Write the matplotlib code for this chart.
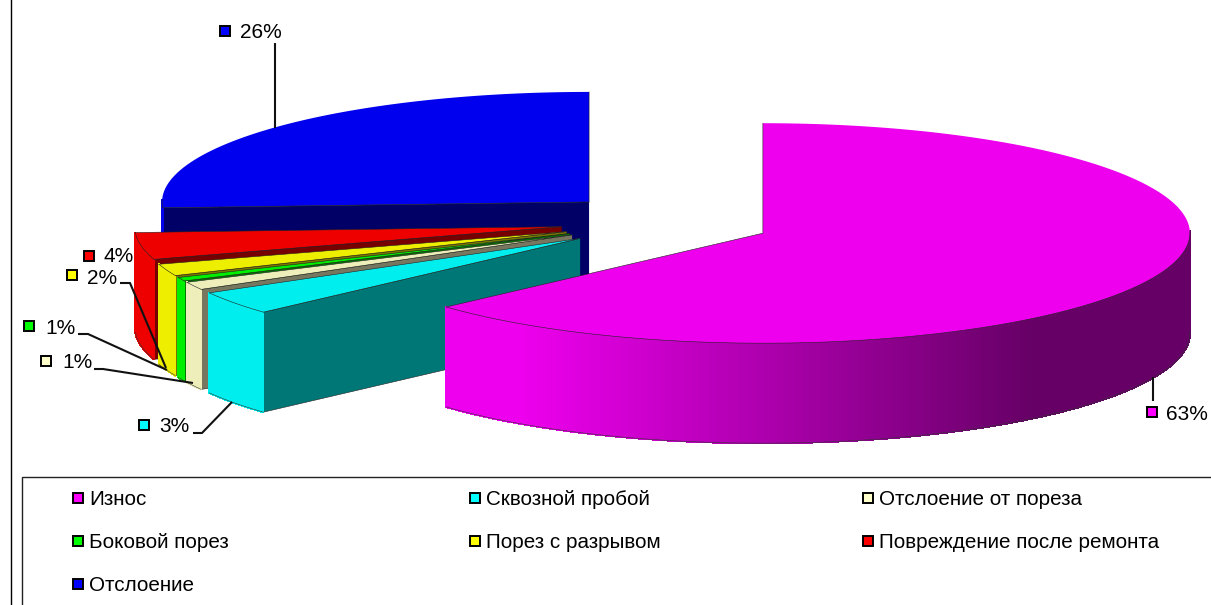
import numpy as np
import matplotlib
matplotlib.use('Agg')
import matplotlib.pyplot as plt
from matplotlib.collections import PolyCollection
from matplotlib.patches import Rectangle

plt.rcParams['font.family'] = ['Liberation Sans', 'DejaVu Sans']

# clockwise from 12 o'clock
categories = ['Износ', 'Сквозной пробой', 'Отслоение от пореза', 'Боковой порез',
              'Порез с разрывом', 'Повреждение после ремонта', 'Отслоение']
values = [63.3, 3.45, 1.15, 0.55, 1.75, 3.95, 25.85]
top_colors = ['#EE00EE', '#00EEEE', '#EEEEBB', '#00EE00', '#EEEE00', '#EE0000', '#0000EE']
face_colors = ['#770077', '#007777', '#777760', '#007700', '#777700', '#770000', '#000066']
legend_colors = ['#FF00FF', '#00FFFF', '#FFFFCC', '#00FF00', '#FFFF00', '#FF0000', '#0000FF']

# pie geometry in pixels
cx, cy = 666, 221.6
rx, ry = 427, 110
ex, ey = 106, 28.6
depth = 100


def point(a, x0, y0, scale_x=rx, scale_y=ry):
    return x0 + scale_x * np.sin(a), y0 - scale_y * np.cos(a)


def shade(color, u):
    # side wall gets darker towards the right of the pie
    k = np.clip((u + 0.57) / 1.2, 0, 1)
    rgb = np.array(matplotlib.colors.to_rgb(color))
    return rgb * (1 - 0.57 * k)


fig = plt.figure(figsize=(12.11, 6.05), dpi=100)
ax = fig.add_axes([0, 0, 1, 1])
ax.set_xlim(0, 1211)
ax.set_ylim(605, 0)
ax.axis('off')

edges = np.cumsum([0] + values) / sum(values) * 2 * np.pi

# back to front: last slice first, then the small ones, then the big one
z = 1
for i in [6, 5, 4, 3, 2, 1, 0]:
    a0, a1 = edges[i], edges[i + 1]
    mid = (a0 + a1) / 2
    x0, y0 = point(mid, cx, cy, ex, ey)
    angles = np.linspace(a0, a1, 900)
    xs, ys = point(angles, x0, y0)
    front = np.cos(angles) < 0.02

    # radial wall at the start angle
    if i != 0:
        xe, ye = point(a0, x0, y0)
        ax.fill([x0, xe, xe, x0], [y0, ye, ye + depth, y0 + depth],
                color=face_colors[i], lw=0, zorder=z)
        ax.plot([x0, xe, xe], [y0, ye, ye + depth], color='#222222', lw=0.4, zorder=z + 1)
        ax.plot([xe, x0], [ye + depth, y0 + depth], color='#222222', lw=0.4, zorder=z + 1)

    # outer wall
    quads = []
    cols = []
    for j in range(len(angles) - 1):
        if not front[j]:
            continue
        quads.append([(xs[j], ys[j]), (xs[j + 1], ys[j + 1]),
                      (xs[j + 1], ys[j + 1] + depth), (xs[j], ys[j] + depth)])
        cols.append(shade(top_colors[i], (xs[j] - x0) / rx))
    if quads:
        ax.add_collection(PolyCollection(quads, facecolors=cols, edgecolors=cols,
                                         linewidths=0.8, antialiaseds=False, zorder=z + 1))
        low = [q[3] for q in quads] + [quads[-1][2]]
        ax.plot([p[0] for p in low], [p[1] for p in low], color='#333333', lw=0.4, zorder=z + 2)

    # top
    ax.fill(np.r_[x0, xs], np.r_[y0, ys], color=top_colors[i], lw=0, zorder=z + 2)
    ax.plot(xs[front], ys[front], color='#222222', lw=0.4, zorder=z + 3)
    ax.plot([xs[-1], x0, xs[0]], [ys[-1], y0, ys[0]], color='#222222', lw=0.4, zorder=z + 3)
    z += 4

# left frame line and legend frame
ax.plot([11, 11], [0, 605], color='black', lw=1.0, zorder=z)
ax.add_patch(Rectangle((22, 477), 1300, 200, fc='white', ec='#222222', lw=1.0, zorder=z))

# data labels: marker x, text x, marker y, text y
label_pos = [(1152, 1166, 412, 414), (144, 159, 425, 427), (46, 62, 361, 363), (29, 45, 326, 328),
             (72, 87, 275, 278), (89, 104, 256, 257), (225, 240, 31, 33)]
for i, (mx, tx, my, ty) in enumerate(label_pos):
    ax.add_patch(Rectangle((mx - 5, my - 5), 10, 10, fc=legend_colors[i], ec='black',
                           lw=1.4, zorder=z + 1))
    ax.text(tx, ty, '%d%%' % round(values[i]), fontsize=15, color='black',
            va='center', ha='left', zorder=z + 1)

leaders = [[(1153, 377), (1153, 401)],
           [(193, 433), (202, 433), (232, 402)],
           [(94, 369), (103, 369), (193, 383)],
           [(78, 334), (88, 334), (167, 370)],
           [(120, 283), (130, 283), (166, 368)],
           [(275, 43), (275, 128)]]
for pts in leaders:
    ax.plot([p[0] for p in pts], [p[1] for p in pts], color='#111111', lw=1.5,
            zorder=z + 1, solid_capstyle='butt')

# legend
legend_x = [78, 475, 868]
legend_y = [498, 541, 584]
for i, name in enumerate(categories):
    lx = legend_x[i % 3]
    ly = legend_y[i // 3]
    ax.add_patch(Rectangle((lx - 5, ly - 5), 10, 10, fc=legend_colors[i], ec='black',
                           lw=1.4, zorder=z + 1))
    ax.text(lx + 11, ly + 1.5, name, fontsize=14.9, color='black', va='center', ha='left',
            zorder=z + 1)

fig.savefig('out.png', dpi=100)
